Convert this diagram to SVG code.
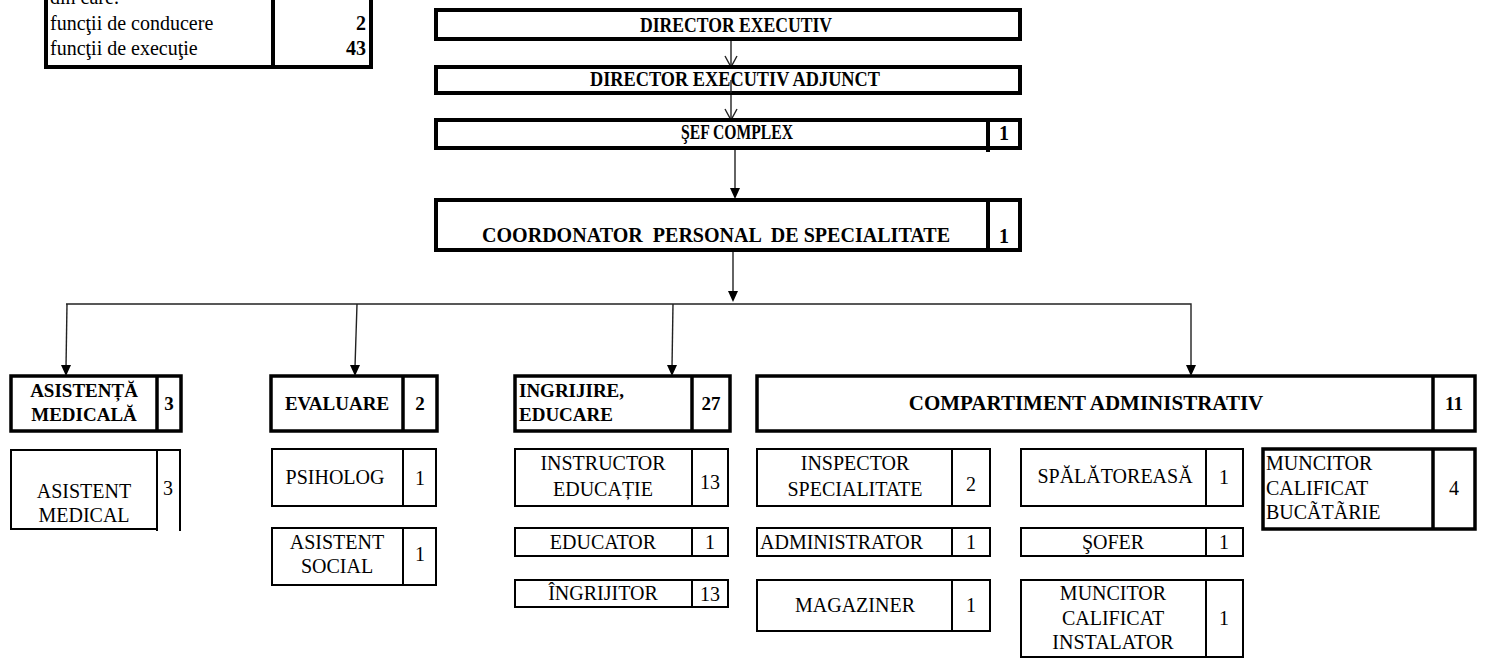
<svg xmlns="http://www.w3.org/2000/svg" width="1485" height="660" viewBox="0 0 1485 660">
<defs>
<style>
.bx{fill:#fff;stroke:#000;stroke-width:2}
.bk{fill:#fff;stroke:#000;stroke-width:4}
.bh{fill:#fff;stroke:#000;stroke-width:3.5}
.dv{stroke:#000;stroke-width:2}
.dk{stroke:#000;stroke-width:4}
.dh{stroke:#000;stroke-width:3.5}
.ln{stroke:#222;stroke-width:1.4;fill:none}
text{font-family:"Liberation Serif","Times New Roman",serif;fill:#000}
.r{font-size:20px}
.b{font-size:19px;font-weight:bold}
.t{font-size:20px;font-weight:bold}
.c{text-anchor:middle}
.e{text-anchor:end}
</style>
</defs>
<rect width="1485" height="660" fill="#fff"/>

<g id="summary">
<rect class="bk" x="46" y="-10" width="325" height="77"/>
<line class="dk" x1="273" y1="-10" x2="273" y2="67"/>
<text class="r" x="50" y="4">din care:</text>
<text class="r" x="50" y="30">funcţii de conducere</text>
<text class="r" x="50" y="55">funcţii de execuţie</text>
<text class="b e" x="366" y="30" style="font-size:20px">2</text>
<text class="b e" x="366" y="55" style="font-size:20px">43</text>
</g>

<g id="connectors">
<line class="ln" x1="731" y1="39" x2="731" y2="71"/>
<polyline class="ln" points="725,56 731,67 737,56"/>
<line class="ln" x1="731" y1="80" x2="731" y2="120"/>
<polyline class="ln" points="725,109 731,120 737,109"/>
<line class="ln" x1="735" y1="148" x2="735" y2="190"/>
<polygon points="730,188 740,188 735,199" fill="#000"/>
<line class="ln" x1="733" y1="250" x2="733" y2="293"/>
<polygon points="728,291 738,291 733,302" fill="#000"/>
<polyline class="ln" points="66,304 1191,304 1191,366"/>
<polygon points="1186,365 1196,365 1191,376" fill="#000"/>
<line class="ln" x1="67" y1="304" x2="66" y2="367"/>
<polygon points="61,365 71,365 66,376" fill="#000"/>
<line class="ln" x1="357" y1="304" x2="355" y2="367"/>
<polygon points="350,365 360,365 355,376" fill="#000"/>
<line class="ln" x1="673" y1="304" x2="672" y2="367"/>
<polygon points="667,365 677,365 672,376" fill="#000"/>
</g>

<g id="director">
<rect class="bk" x="436" y="10" width="584" height="29"/>
<text class="t c" x="736" y="32" textLength="192" lengthAdjust="spacingAndGlyphs">DIRECTOR EXECUTIV</text>
</g>
<g id="director-adjunct">
<rect class="bk" x="436" y="67" width="584" height="26"/>
<text class="t c" x="735" y="86" textLength="290" lengthAdjust="spacingAndGlyphs">DIRECTOR EXECUTIV ADJUNCT</text>
</g>
<line class="ln" x1="731" y1="80" x2="731" y2="93"/>
<g id="sef-complex">
<rect class="bk" x="436" y="120" width="584" height="28"/>
<line class="dk" x1="988" y1="120" x2="988" y2="152"/>
<text class="t c" x="737" y="139" textLength="112" lengthAdjust="spacingAndGlyphs">ŞEF COMPLEX</text>
<text class="t c" x="1004" y="140">1</text>
</g>
<g id="coordonator">
<rect class="bk" x="436" y="200" width="584" height="50"/>
<line class="dk" x1="988" y1="200" x2="988" y2="250"/>
<text class="t c" x="716" y="242" style="white-space:pre" textLength="468" lengthAdjust="spacingAndGlyphs">COORDONATOR  PERSONAL  DE SPECIALITATE</text>
<text class="t c" x="1004" y="243">1</text>
</g>

<g id="asistenta-medicala">
<rect class="bh" x="11" y="376" width="170" height="55"/>
<line class="dh" x1="157" y1="376" x2="157" y2="431"/>
<text class="b c" x="84" y="397">ASISTENȚĂ</text>
<text class="b c" x="84" y="421">MEDICALĂ</text>
<text class="b c" x="169" y="410">3</text>
</g>
<g id="evaluare">
<rect class="bh" x="271" y="376" width="166" height="55"/>
<line class="dh" x1="403" y1="376" x2="403" y2="431"/>
<text class="b c" x="337" y="410">EVALUARE</text>
<text class="b c" x="420" y="410">2</text>
</g>
<g id="ingrijire-educare">
<rect class="bh" x="515" y="376" width="215" height="55"/>
<line class="dh" x1="692" y1="376" x2="692" y2="431"/>
<text class="b" x="519" y="397">INGRIJIRE,</text>
<text class="b" x="519" y="421">EDUCARE</text>
<text class="b c" x="711" y="410">27</text>
</g>
<g id="compartiment-administrativ">
<rect class="bh" x="757" y="376" width="718" height="55"/>
<line class="dh" x1="1433" y1="376" x2="1433" y2="431"/>
<text class="b c" x="1086" y="410" style="font-size:21px">COMPARTIMENT ADMINISTRATIV</text>
<text class="b c" x="1454" y="410">11</text>
</g>

<g id="asistent-medical">
<rect class="bx" x="11" y="450" width="146" height="79"/>
<polyline class="ln" style="stroke:#000;stroke-width:2" points="157,450 180,450 180,531"/>
<line class="dv" x1="157" y1="450" x2="157" y2="531"/>
<text class="r c" x="84" y="498">ASISTENT</text>
<text class="r c" x="84" y="522">MEDICAL</text>
<text class="r c" x="168" y="495">3</text>
</g>
<g id="psiholog">
<rect class="bx" x="272" y="449" width="164" height="57"/>
<line class="dv" x1="403" y1="449" x2="403" y2="506"/>
<text class="r c" x="335" y="484">PSIHOLOG</text>
<text class="r c" x="420" y="485">1</text>
</g>
<g id="asistent-social">
<rect class="bx" x="272" y="528" width="164" height="57"/>
<line class="dv" x1="403" y1="528" x2="403" y2="585"/>
<text class="r c" x="337" y="549">ASISTENT</text>
<text class="r c" x="337" y="573">SOCIAL</text>
<text class="r c" x="420" y="561">1</text>
</g>
<g id="instructor-educatie">
<rect class="bx" x="515" y="449" width="213" height="57"/>
<line class="dv" x1="692" y1="449" x2="692" y2="506"/>
<text class="r c" x="603" y="470">INSTRUCTOR</text>
<text class="r c" x="603" y="496">EDUCAȚIE</text>
<text class="r c" x="710" y="489">13</text>
</g>
<g id="educator">
<rect class="bx" x="515" y="528" width="213" height="28"/>
<line class="dv" x1="692" y1="528" x2="692" y2="556"/>
<text class="r c" x="603" y="549">EDUCATOR</text>
<text class="r c" x="710" y="549">1</text>
</g>
<g id="ingrijitor">
<rect class="bx" x="515" y="580" width="213" height="27"/>
<line class="dv" x1="692" y1="580" x2="692" y2="607"/>
<text class="r c" x="603" y="600">ÎNGRIJITOR</text>
<text class="r c" x="710" y="601">13</text>
</g>
<g id="inspector-specialitate">
<rect class="bx" x="757" y="449" width="233" height="57"/>
<line class="dv" x1="952" y1="449" x2="952" y2="506"/>
<text class="r c" x="855" y="470">INSPECTOR</text>
<text class="r c" x="855" y="496">SPECIALITATE</text>
<text class="r c" x="971" y="491">2</text>
</g>
<g id="administrator">
<rect class="bx" x="757" y="528" width="233" height="28"/>
<line class="dv" x1="952" y1="528" x2="952" y2="556"/>
<text class="r" x="760" y="549">ADMINISTRATOR</text>
<text class="r c" x="971" y="549">1</text>
</g>
<g id="magaziner">
<rect class="bx" x="757" y="580" width="233" height="51"/>
<line class="dv" x1="952" y1="580" x2="952" y2="631"/>
<text class="r c" x="855" y="612">MAGAZINER</text>
<text class="r c" x="971" y="612">1</text>
</g>
<g id="spalatoreasa">
<rect class="bx" x="1021" y="449" width="222" height="57"/>
<line class="dv" x1="1206" y1="449" x2="1206" y2="506"/>
<text class="r c" x="1115" y="483">SPĂLĂTOREASĂ</text>
<text class="r c" x="1224" y="484">1</text>
</g>
<g id="sofer">
<rect class="bx" x="1021" y="528" width="222" height="28"/>
<line class="dv" x1="1206" y1="528" x2="1206" y2="556"/>
<text class="r c" x="1113" y="549">ŞOFER</text>
<text class="r c" x="1224" y="549">1</text>
</g>
<g id="muncitor-instalator">
<rect class="bx" x="1021" y="580" width="222" height="77"/>
<line class="dv" x1="1206" y1="580" x2="1206" y2="657"/>
<text class="r c" x="1113" y="600">MUNCITOR</text>
<text class="r c" x="1113" y="625">CALIFICAT</text>
<text class="r c" x="1113" y="649">INSTALATOR</text>
<text class="r c" x="1224" y="625">1</text>
</g>
<g id="muncitor-bucatarie">
<rect class="bh" x="1263" y="449" width="212" height="80"/>
<line class="dh" x1="1433" y1="449" x2="1433" y2="529"/>
<text class="r" x="1266" y="470">MUNCITOR</text>
<text class="r" x="1266" y="495">CALIFICAT</text>
<text class="r" x="1266" y="519">BUCÃTÃRIE</text>
<text class="r c" x="1454" y="495">4</text>
</g>
</svg>
